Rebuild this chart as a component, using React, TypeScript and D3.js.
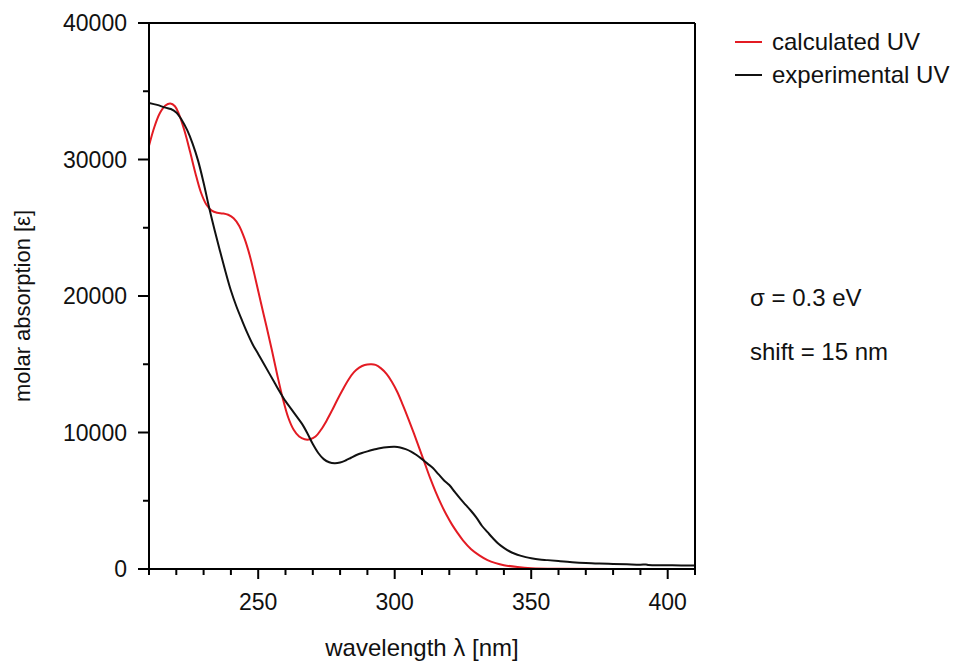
import React from "react";
import * as d3 from "d3";

// calculated UV spectrum (wavelength nm, molar absorption)
const calcWavelength = [210,212,214,216,217.8,219.5,221,223,225,227,229,231,233,235,237,239,241,243,245,247,249,251,253,255,257,259,261,263,265,267,269,271,273,275,277,279,281,283,285,287,289,291.5,293,295,297,299,301,303,305,307,309,311,313,315,317,319,321,323,325,328,331,334,337,340,345,350,360,380,410];
const calcAbsorption = [31000,32400,33400,33950,34100,33900,33300,32100,30600,29000,27600,26700,26250,26100,26050,25950,25700,25150,24200,22900,21250,19500,17800,16050,14200,12500,11100,10200,9700,9500,9500,9700,10200,10850,11600,12400,13150,13850,14400,14750,14950,15000,14950,14700,14300,13700,12950,12000,11000,9950,8850,7750,6650,5650,4750,3950,3250,2650,2100,1450,1000,650,430,280,140,60,15,3,0];

// experimental UV spectrum
const expWavelength = [210,213,216,218,220,222,224,226,228,230,232,234,236,238,240,242,244,246,248,250,252,254,256,258,260,262,264,266,268,270,272,274,276,278,280,282,284,286,288,290,292,294,296,298,300,302,304,306,308,310,312,314,316,318,320,322,324,326,328,330,332,334,336,338,340,342,344,346,348,350,353,356,360,365,370,375,380,385,390,392,393,395,400,405,410];
const expAbsorption = [34150,34000,33800,33700,33450,32900,32150,31150,29900,28300,26500,24850,23300,21800,20400,19250,18250,17300,16450,15750,15050,14350,13650,12950,12300,11750,11200,10650,9950,9150,8500,8050,7820,7750,7800,7950,8150,8350,8500,8620,8730,8830,8900,8940,8950,8900,8780,8600,8350,8050,7720,7400,6950,6500,6150,5650,5150,4700,4250,3750,3150,2700,2250,1850,1550,1300,1120,980,870,790,700,650,580,500,440,400,370,340,310,330,290,280,270,260,260];

const xMajorTicks = [250, 300, 350, 400];
const xMinorTicks = [210,220,230,240,260,270,280,290,310,320,330,340,360,370,380,390,410];
const yMajorTicks = [0, 10000, 20000, 30000, 40000];
const yMinorTicks = [5000, 15000, 25000, 35000];

const legendLabels = ["calculated UV", "experimental UV"];
const legendColors = ["#e31b23", "#111111"];
const noteLines = ["σ = 0.3 eV", "shift = 15 nm"];

export default function App() {
  const W = 957, H = 663;
  const left = 149, right = 695, top = 23, bottom = 569;
  const x = d3.scaleLinear().domain([210, 410]).range([left, right]);
  const y = d3.scaleLinear().domain([0, 40000]).range([bottom, top]);
  const line = d3.line<[number, number]>()
    .x(d => x(d[0]))
    .y(d => y(d[1]))
    .curve(d3.curveCatmullRom.alpha(0.5));
  const calcData = calcWavelength.map((w, i) => [w, calcAbsorption[i]] as [number, number]);
  const expData = expWavelength.map((w, i) => [w, expAbsorption[i]] as [number, number]);
  const font = "'Liberation Sans', Arial, sans-serif";

  return (
    <div style={{ position: "fixed", left: 0, top: 0, width: W, height: H, background: "#fff" }}>
      <svg width={W} height={H} style={{ display: "block" }} fontFamily={font}>
        <rect width={W} height={H} fill="#fff" />
        <defs>
          <clipPath id="plotclip">
            <rect x={left} y={top} width={right - left} height={bottom - top} />
          </clipPath>
        </defs>
        <g clipPath="url(#plotclip)">
          <path d={line(calcData) || ""} fill="none" stroke={legendColors[0]} strokeWidth={2} />
          <path d={line(expData) || ""} fill="none" stroke={legendColors[1]} strokeWidth={2} />
        </g>
        {/* frame */}
        <g stroke="#000" strokeWidth={2} fill="none">
          <line x1={left} x2={right} y1={bottom} y2={bottom} />
          <line x1={left} x2={right} y1={top} y2={top} />
          <line x1={left} x2={left} y1={top} y2={bottom} />
          <line x1={right} x2={right} y1={top} y2={bottom} />
          {xMajorTicks.map(t => (
            <line key={"xM" + t} x1={x(t)} x2={x(t)} y1={bottom} y2={bottom + 10} />
          ))}
          {xMinorTicks.map(t => (
            <line key={"xm" + t} x1={x(t)} x2={x(t)} y1={bottom} y2={bottom + 6} />
          ))}
          {yMajorTicks.map(t => (
            <line key={"yM" + t} x1={left - 11} x2={left} y1={y(t)} y2={y(t)} />
          ))}
          {yMinorTicks.map(t => (
            <line key={"ym" + t} x1={left - 6} x2={left} y1={y(t)} y2={y(t)} />
          ))}
        </g>
        <g fontSize={23} fill="#111">
          {xMajorTicks.map(t => (
            <text key={"xl" + t} x={x(t)} y={610} textAnchor="middle">{t}</text>
          ))}
          {yMajorTicks.map(t => (
            <text key={"yl" + t} x={127} y={y(t)} dy="0.35em" textAnchor="end">{t}</text>
          ))}
          <text x={422} y={656} fontSize={24} textAnchor="middle">wavelength λ [nm]</text>
          <text transform={`translate(30, ${306}) rotate(-90)`} fontSize={22} textAnchor="middle">molar absorption [ε]</text>
        </g>
        <g fontSize={24} fill="#111">
          {legendLabels.map((l, i) => (
            <g key={l} transform={`translate(0, ${42 + i * 33})`}>
              <line x1={735} x2={762} y1={0} y2={0} stroke={legendColors[i]} strokeWidth={2} />
              <text x={772} y={0} dy="0.35em">{l}</text>
            </g>
          ))}
          {noteLines.map((n, i) => (
            <text key={n} x={750} y={298 + i * 54} dy="0.35em">{n}</text>
          ))}
        </g>
      </svg>
    </div>
  );
}
